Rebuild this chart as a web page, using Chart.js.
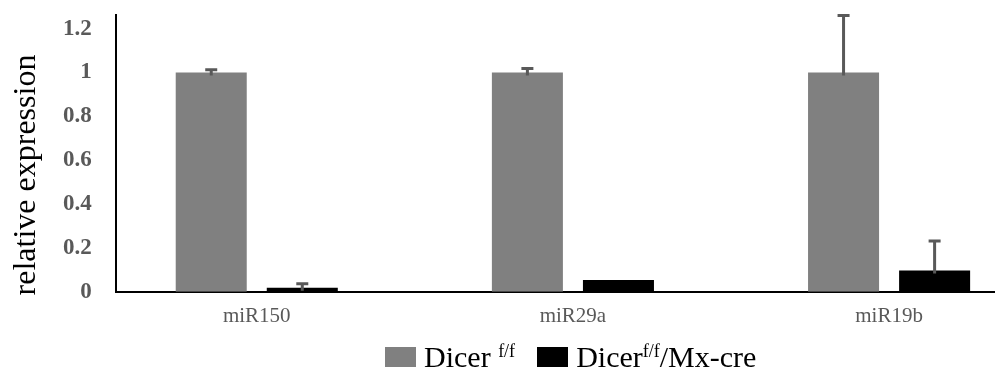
<!DOCTYPE html>
<html>
<head>
<meta charset="utf-8">
<script src="https://cdn.jsdelivr.net/npm/chart.js@4"></script>
<style>
  body { margin: 0; background: #fff; }
  #wrap { position: relative; width: 995px; height: 374px; overflow: hidden; }
  #chart { position: absolute; left: 0; top: -15px; }
  #legend {
    position: absolute; left: 385px; top: 340px;
    font-family: "Liberation Serif", serif; font-size: 30px; color: #000;
    display: flex; align-items: center; white-space: nowrap;
  }
  #legend .key { display: inline-block; width: 31px; height: 20px; margin-right: 8px; }
  #legend .item { display: flex; align-items: center; margin-right: 22px; }
  #legend sup { font-size: 18px; vertical-align: 10px; line-height: 0; }
</style>
</head>
<body>
<div id="wrap">
  <canvas id="chart" width="995" height="360"></canvas>
  <div id="legend"></div>
</div>
<script>
const categories = ["miR150", "miR29a", "miR19b"];
const seriesNames = ["Dicer <sup>f/f</sup>", "Dicer<sup>f/f</sup>/Mx-cre"];
const wildType = [1.0, 1.0, 1.0];
const wildTypeErr = [0.013, 0.018, 0.26];
const knockout = [0.018, 0.054, 0.097];
const knockoutErr = [0.019, 0.0, 0.135];
const yTicks = [0, 0.2, 0.4, 0.6, 0.8, 1.0, 1.2];

const colors = ["#808080", "#000000"];
const errs = [wildTypeErr, knockoutErr];

const errorBars = {
  id: "errorBars",
  afterDatasetsDraw(chart) {
    const ctx = chart.ctx;
    const y = chart.scales.y;
    ctx.save();
    ctx.strokeStyle = "#595959";
    ctx.lineWidth = 3;
    chart.data.datasets.forEach((ds, di) => {
      const meta = chart.getDatasetMeta(di);
      meta.data.forEach((bar, i) => {
        const e = errs[di][i];
        if (!e) return;
        const v = ds.data[i].y;
        const y0 = y.getPixelForValue(v) + 3;
        const y1 = y.getPixelForValue(v + e);
        ctx.beginPath();
        ctx.moveTo(bar.x, y0);
        ctx.lineTo(bar.x, y1);
        ctx.moveTo(bar.x - 6, y1);
        ctx.lineTo(bar.x + 6, y1);
        ctx.stroke();
      });
    });
    ctx.restore();
  }
};

const yTitle = {
  id: "yTitle",
  afterDraw(chart) {
    const ctx = chart.ctx;
    ctx.save();
    ctx.translate(27, 190);
    ctx.rotate(-Math.PI / 2);
    ctx.font = "32px 'Liberation Serif'";
    ctx.fillStyle = "#000";
    ctx.textAlign = "center";
    ctx.textBaseline = "middle";
    ctx.fillText("relative expression", 0, 0);
    ctx.restore();
  }
};

new Chart(document.getElementById("chart"), {
  type: "bar",
  data: {
    datasets: [
      { label: "Dicer f/f", data: wildType.map((v, i) => ({ x: i, y: v })), backgroundColor: colors[0] },
      { label: "Dicer f/f/Mx-cre", data: knockout.map((v, i) => ({ x: i, y: v })), backgroundColor: colors[1] }
    ]
  },
  options: {
    responsive: false,
    animation: false,
    categoryPercentage: 0.576,
    barPercentage: 0.78,
    layout: { padding: { top: 20, left: 47, right: 0, bottom: 12 } },
    plugins: { legend: { display: false }, tooltip: { enabled: false } },
    scales: {
      x: {
        type: "linear",
        offset: false,
        min: -0.446,
        max: 2.335,
        grid: { display: false },
        border: { color: "#000", width: 2 },
        afterBuildTicks: (s) => { s.ticks = categories.map((c, i) => ({ value: i })); },
        ticks: {
          autoSkip: false,
          maxRotation: 0,
          padding: 4,
          color: "#595959",
          font: { family: "Liberation Serif", size: 21 },
          callback: (v) => categories[v]
        }
      },
      y: {
        min: 0,
        max: 1.263,
        grid: { display: false },
        border: { color: "#000", width: 2 },
        afterBuildTicks: (s) => { s.ticks = yTicks.map((v) => ({ value: v })); },
        ticks: {
          padding: 16,
          color: "#595959",
          font: { family: "Liberation Serif", size: 23, weight: "bold" },
          callback: (v) => String(Math.round(v * 10) / 10)
        }
      }
    }
  },
  plugins: [errorBars, yTitle]
});

const legend = document.getElementById("legend");
seriesNames.forEach((name, i) => {
  const item = document.createElement("span");
  item.className = "item";
  item.innerHTML = `<span class="key" style="background:${colors[i]}"></span><span>${name}</span>`;
  legend.appendChild(item);
});
</script>
</body>
</html>
